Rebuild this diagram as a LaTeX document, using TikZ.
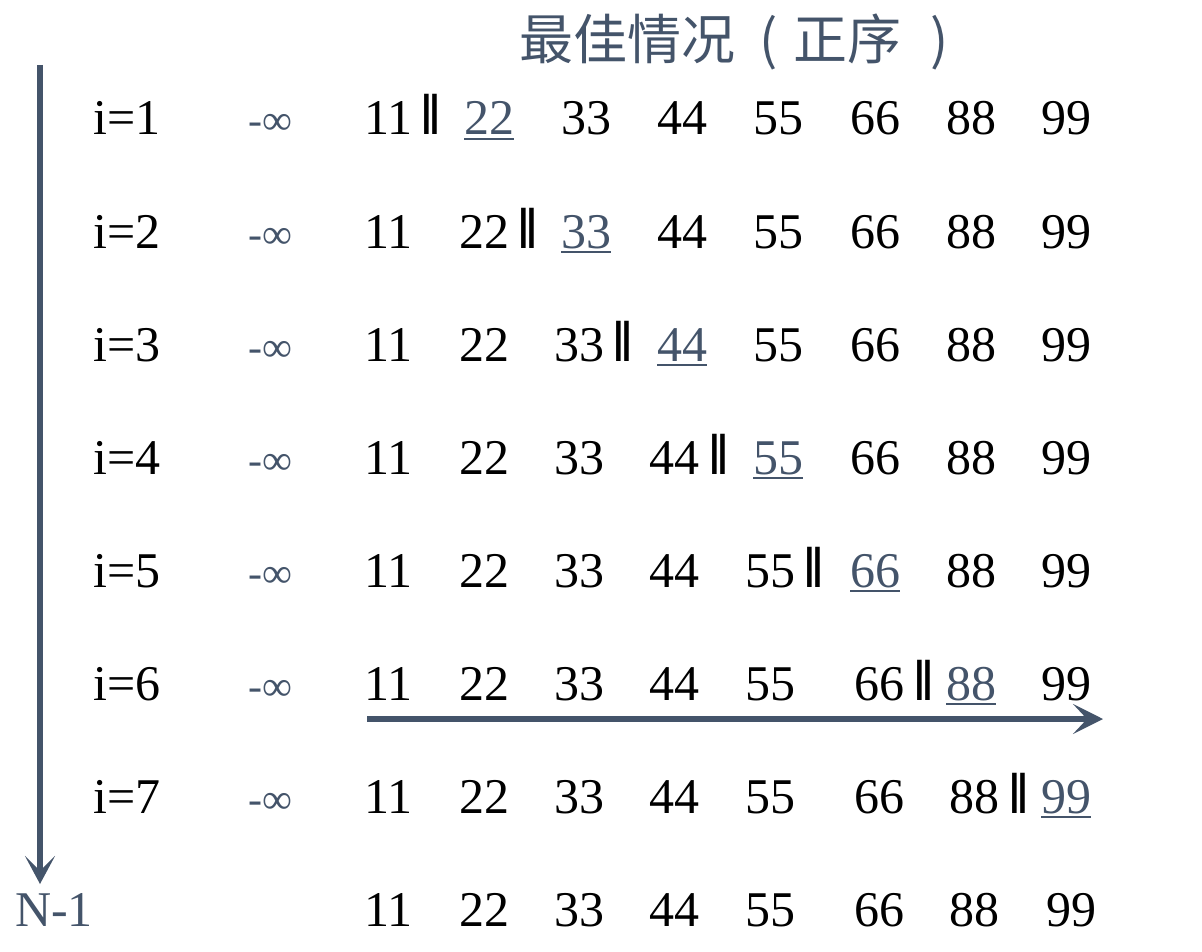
\documentclass[tikz,border=0pt]{standalone}
\usepackage{fontspec}
\setmainfont{Liberation Serif}
\newfontfamily\cjk{Noto Sans CJK SC}
\usetikzlibrary{arrows.meta}
\definecolor{slate}{HTML}{44546A}
\tikzset{
  num/.style={anchor=base west, inner sep=0pt, font=\fontsize{50}{60}\selectfont, text=black},
  hl/.style={num, text=slate},
  lbl/.style={num},
  inf/.style={num, text=slate, font=\fontsize{42}{50}\selectfont},
  bar/.style={num, font=\bfseries\fontsize{58}{66}\selectfont},
  uline/.style={draw=slate, line width=2pt},
  harrow/.style={draw=slate, line width=6pt, -{Stealth[length=30pt, width=30pt, inset=14pt]}},
  varrow/.style={draw=slate, line width=5.5pt, -{Stealth[length=28pt, width=30pt, inset=15pt]}},
}
\begin{document}
\begin{tikzpicture}[x=1pt,y=-1pt]
\useasboundingbox (0,0) rectangle (1202,952);
\node[anchor=west, inner sep=0pt, text=slate, font=\cjk\fontsize{54}{60}\selectfont] (title) at (519,42) {最佳情况\hspace{24pt}(\hspace{16pt}正序\hspace{29pt})};
% row labels
\foreach \k/\y in {1/135,2/248,3/361,4/474,5/587,6/700,7/813} {
  \node[lbl] (i\k) at (93,\y) {i=\k};
  \node[inf] (inf\k) at (248,\y) {-∞};
}
\node[num, text=slate] (nm1) at (15,926) {N-1};
% row 1
\node[num] (a1) at (364,135) {11};
\node[bar] (b1) at (421,135) {‖};
\node[hl] (a2) at (464,135) {22};
\foreach \t/\x [count=\k from 3] in {33/561,44/657,55/753,66/850,88/946,99/1041} {\node[num] (a\k) at (\x,135) {\t};}
% row 2
\node[num] (b2n1) at (364,248) {11};
\node[num] (b2n2) at (459,248) {22};
\node[bar] (b2) at (518,248) {‖};
\node[hl] (b2n3) at (561,248) {33};
\foreach \t/\x [count=\k from 4] in {44/657,55/753,66/850,88/946,99/1041} {\node[num] (b2n\k) at (\x,248) {\t};}
% row 3
\foreach \t/\x [count=\k] in {11/364,22/459,33/554} {\node[num] (c\k) at (\x,361) {\t};}
\node[bar] (b3) at (613,361) {‖};
\node[hl] (c4) at (657,361) {44};
\foreach \t/\x [count=\k from 5] in {55/753,66/850,88/946,99/1041} {\node[num] (c\k) at (\x,361) {\t};}
% row 4
\foreach \t/\x [count=\k] in {11/364,22/459,33/554,44/649} {\node[num] (d\k) at (\x,474) {\t};}
\node[bar] (b4) at (709,474) {‖};
\node[hl] (d5) at (753,474) {55};
\foreach \t/\x [count=\k from 6] in {66/850,88/946,99/1041} {\node[num] (d\k) at (\x,474) {\t};}
% row 5
\foreach \t/\x [count=\k] in {11/364,22/459,33/554,44/649,55/745} {\node[num] (e\k) at (\x,587) {\t};}
\node[bar] (b5) at (804,587) {‖};
\node[hl] (e6) at (850,587) {66};
\foreach \t/\x [count=\k from 7] in {88/946,99/1041} {\node[num] (e\k) at (\x,587) {\t};}
% row 6
\foreach \t/\x [count=\k] in {11/364,22/459,33/554,44/649,55/745,66/854} {\node[num] (f\k) at (\x,700) {\t};}
\node[bar] (b6) at (914,700) {‖};
\node[hl] (f7) at (946,700) {88};
\node[num] (f8) at (1041,700) {99};
% row 7
\foreach \t/\x [count=\k] in {11/364,22/459,33/554,44/649,55/745,66/854,88/949} {\node[num] (g\k) at (\x,813) {\t};}
\node[bar] (b7) at (1009,813) {‖};
\node[hl] (g8) at (1041,813) {99};
% row 8
\foreach \t/\x [count=\k] in {11/364,22/459,33/554,44/649,55/745,66/854,88/949,99/1046} {\node[num] (h\k) at (\x,926) {\t};}
% underlines
\foreach \n in {a2,b2n3,c4,d5,e6,f7,g8} {
  \draw[uline] ([yshift=-4pt]\n.base west) -- ([yshift=-4pt]\n.base east);
}
% arrows
\coordinate (vtop) at (40,65);
\coordinate (vbot) at (40,884);
\draw[varrow] (vtop) -- (vbot);
\coordinate (hstart) at (367,719);
\coordinate (hend) at (1103,719);
\draw[harrow] (hstart) -- (hend);
\end{tikzpicture}
\end{document}
